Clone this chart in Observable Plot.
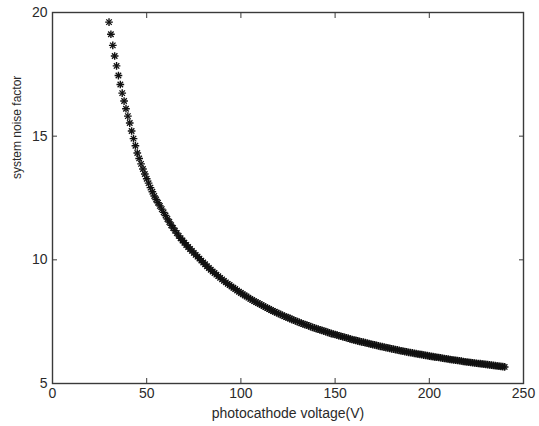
<!DOCTYPE html>
<html>
<head>
<meta charset="utf-8">
<script src="https://cdn.jsdelivr.net/npm/d3@7"></script>
<script src="https://cdn.jsdelivr.net/npm/@observablehq/plot@0.6"></script>
<style>
  html, body { margin: 0; padding: 0; background: #fff; }
  #chart svg { display: block; }
</style>
</head>
<body>
<div id="chart"></div>
<script>
// photocathode voltage (V), one point per volt from 30 to 240
const voltageStart = 30;
// system noise factor, one value per volt
const noiseFactor = [
  19.61, 19.12, 18.67, 18.24, 17.84, 17.45, 17.09, 16.74, 16.42, 16.11,
  15.81, 15.53, 15.21, 14.90, 14.61, 14.32, 14.10, 13.88, 13.67, 13.47,
  13.28, 13.10, 12.92, 12.75, 12.58, 12.44, 12.31, 12.18, 12.05, 11.92,
  11.79, 11.65, 11.53, 11.40, 11.29, 11.18, 11.08, 10.97, 10.87, 10.78,
  10.69, 10.60, 10.52, 10.44, 10.36, 10.28, 10.20, 10.13, 10.05, 9.97,
  9.89, 9.82, 9.74, 9.67, 9.60, 9.53, 9.47, 9.40, 9.34, 9.27,
  9.21, 9.15, 9.09, 9.03, 8.98, 8.92, 8.87, 8.82, 8.76, 8.71,
  8.66, 8.61, 8.56, 8.52, 8.47, 8.42, 8.38, 8.33, 8.29, 8.25,
  8.21, 8.17, 8.13, 8.09, 8.05, 8.01, 7.97, 7.93, 7.90, 7.86,
  7.83, 7.79, 7.76, 7.72, 7.69, 7.66, 7.63, 7.59, 7.56, 7.53,
  7.50, 7.47, 7.44, 7.41, 7.38, 7.36, 7.33, 7.30, 7.27, 7.25,
  7.22, 7.20, 7.17, 7.15, 7.12, 7.10, 7.07, 7.05, 7.02, 7.00,
  6.98, 6.96, 6.93, 6.91, 6.89, 6.87, 6.85, 6.83, 6.80, 6.78,
  6.76, 6.74, 6.72, 6.70, 6.68, 6.67, 6.65, 6.63, 6.61, 6.59,
  6.57, 6.56, 6.54, 6.52, 6.50, 6.49, 6.47, 6.45, 6.44, 6.42,
  6.40, 6.39, 6.37, 6.36, 6.34, 6.32, 6.31, 6.29, 6.28, 6.26,
  6.25, 6.24, 6.22, 6.21, 6.19, 6.18, 6.17, 6.15, 6.14, 6.13,
  6.11, 6.10, 6.09, 6.07, 6.06, 6.05, 6.04, 6.02, 6.01, 6.00,
  5.99, 5.97, 5.96, 5.95, 5.94, 5.93, 5.92, 5.91, 5.89, 5.88,
  5.87, 5.86, 5.85, 5.84, 5.83, 5.82, 5.81, 5.80, 5.79, 5.78,
  5.77, 5.76, 5.75, 5.74, 5.73, 5.72, 5.71, 5.70, 5.69, 5.68,
  5.67
];
const xTicks = [0, 50, 100, 150, 200, 250];
const yTicks = [5, 10, 15, 20];
const xLabel = "photocathode voltage(V)";
const yLabel = "system noise factor";

const points = noiseFactor.map((v, i) => ({voltage: voltageStart + i, factor: v}));

const font = "'Liberation Sans', Arial, Helvetica, sans-serif";
const axisColor = "#3a3a3a";
const textColor = "#2a2a2a";

const chart = Plot.plot({
  width: 539,
  height: 426,
  marginLeft: 52,
  marginRight: 16,
  marginTop: 12,
  marginBottom: 43,
  style: {fontFamily: font, fontSize: "14px", color: textColor, background: "#fff"},
  x: {domain: [0, 250]},
  y: {domain: [5, 20]},
  marks: [
    Plot.frame({stroke: axisColor, strokeWidth: 1.4}),
    Plot.axisX(xTicks, {anchor: "bottom", tickSize: -5, tickPadding: 10, stroke: axisColor, fill: textColor, label: null, fontSize: 14}),
    Plot.axisX(xTicks, {anchor: "top", tickSize: -5, tickFormat: () => "", stroke: axisColor, label: null}),
    Plot.axisY(yTicks, {anchor: "left", tickSize: -5, tickPadding: 10, stroke: axisColor, fill: textColor, label: null, fontSize: 14}),
    Plot.axisY(yTicks, {anchor: "right", tickSize: -5, tickFormat: () => "", stroke: axisColor, label: null}),
    Plot.dot(points, {x: "voltage", y: "factor", symbol: "plus", r: 2.6, stroke: "#111", strokeWidth: 1.4}),
    Plot.dot(points, {x: "voltage", y: "factor", symbol: "times", r: 2.6, stroke: "#111", strokeWidth: 1.3}),
    Plot.text([xLabel], {frameAnchor: "bottom", dy: 30, text: d => d, fontSize: 14, fill: textColor, lineAnchor: "middle"}),
    Plot.text([yLabel], {frameAnchor: "left", dx: -35, dy: -19, rotate: -90, text: d => d, fontSize: 12, fill: textColor, lineAnchor: "middle"})
  ]
});
document.getElementById("chart").appendChild(chart);
</script>
</body>
</html>
